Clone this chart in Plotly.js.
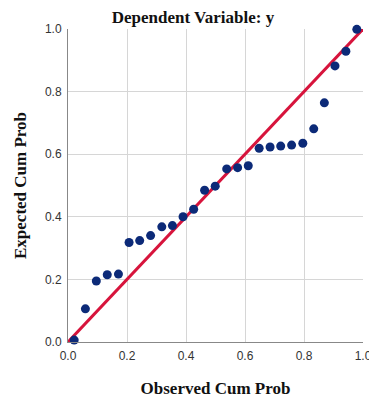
<!DOCTYPE html>
<html>
<head>
<meta charset="utf-8">
<script src="https://cdn.plot.ly/plotly-3.0.1.min.js"></script>
<style>html,body{margin:0;padding:0;background:#fff;}#chart{width:369px;height:398px;}</style>
</head>
<body>
<div id="chart"></div>
<script>
const observedCumProb = [0.021, 0.059, 0.096, 0.133, 0.171, 0.207, 0.243, 0.280, 0.318, 0.354, 0.390, 0.426, 0.463, 0.499, 0.538, 0.575, 0.611, 0.648, 0.685, 0.721, 0.758, 0.796, 0.833, 0.869, 0.905, 0.942, 0.979];
const expectedCumProb = [0.006, 0.106, 0.195, 0.215, 0.217, 0.318, 0.324, 0.340, 0.368, 0.372, 0.400, 0.424, 0.485, 0.498, 0.553, 0.557, 0.563, 0.619, 0.623, 0.626, 0.629, 0.635, 0.681, 0.764, 0.882, 0.929, 0.999];
const refLineX = [0, 1];
const refLineY = [0, 1];
const tickVals = [0, 0.2, 0.4, 0.6, 0.8, 1.0];
const tickText = ["0.0", "0.2", "0.4", "0.6", "0.8", "1.0"];

const serif = "'Liberation Serif', 'DejaVu Serif', serif";
const sans = "'Liberation Sans', Arial, sans-serif";

const traces = [
  {
    x: refLineX, y: refLineY, mode: 'lines', type: 'scatter',
    line: {color: '#d7143c', width: 3}, cliponaxis: false, hoverinfo: 'skip'
  },
  {
    x: observedCumProb, y: expectedCumProb, mode: 'markers', type: 'scatter',
    marker: {color: '#0c2a78', size: 9}, cliponaxis: false
  }
];

const axisCommon = {
  range: [0, 1], tickvals: tickVals, ticktext: tickText,
  showgrid: true, gridcolor: '#d6d6d6', gridwidth: 1,
  zeroline: false, ticks: '', tickfont: {family: sans, size: 12, color: '#333'},
  ticklabeloverflow: 'allow', fixedrange: true
};

const layout = {
  width: 369, height: 398,
  margin: {l: 68, r: 6, t: 29, b: 56},
  paper_bgcolor: '#fff', plot_bgcolor: '#fff',
  showlegend: false,
  title: {text: '<b>Dependent Variable: y</b>', font: {family: serif, size: 17, color: '#111'},
          x: 193/369, xanchor: 'center', y: 1 - 17/398, yanchor: 'middle'},
  xaxis: Object.assign({}, axisCommon, {
    showline: true, linecolor: '#888', linewidth: 1, mirror: false,
    ticklabelstandoff: 3,
    title: {text: '<b>Observed Cum Prob</b>', font: {family: serif, size: 17, color: '#111'}, standoff: 20}
  }),
  yaxis: Object.assign({}, axisCommon, {
    showline: true, linecolor: '#888', linewidth: 1,
    ticklabelstandoff: 3,
    title: {text: '<b>Expected Cum Prob</b>', font: {family: serif, size: 17, color: '#111'}, standoff: 13}
  })
};

Plotly.newPlot('chart', traces, layout, {displayModeBar: false, staticPlot: true});
</script>
</body>
</html>
